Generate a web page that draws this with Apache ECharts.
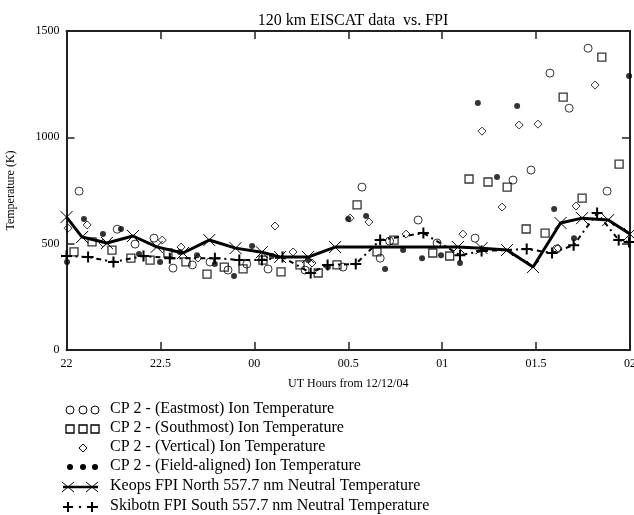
<!DOCTYPE html>
<html>
<head>
<meta charset="utf-8">
<script src="https://cdn.jsdelivr.net/npm/echarts@6/dist/echarts.min.js"></script>
<style>
html,body{margin:0;padding:0;background:#fff;}
#chart{width:634px;height:515px;}
</style>
</head>
<body>
<div id="chart"></div>
<script>
// Hours after 22 UT (tick spacing 0.5)
const tickLabels = ['22', '22.5', '00', '00.5', '01', '01.5', '02'];
const legendNames = [
  'CP 2 - (Eastmost) Ion Temperature',
  'CP 2 - (Southmost) Ion Temperature',
  'CP 2 - (Vertical) Ion Temperature',
  'CP 2 - (Field-aligned) Ion Temperature',
  'Keops FPI North 557.7 nm Neutral Temperature',
  'Skibotn FPI South 557.7 nm Neutral Temperature'
];

const eastmost = [
  [0.067,747],[0.27,568],[0.365,498],[0.466,526],[0.567,385],[0.67,400],[0.764,414],
  [0.86,376],[0.96,404],[1.073,381],[1.27,376],[1.472,390],[1.573,766],[1.67,432],
  [1.72,512],[1.872,611],[1.973,503],[2.175,526],[2.377,799],[2.473,846],[2.574,1302],
  [2.61,475],[2.676,1137],[2.777,1419],[2.878,747]
];
const southmost = [
  [0.04,461],[0.136,508],[0.242,470],[0.343,432],[0.445,423],[0.54,456],[0.636,414],
  [0.748,357],[0.84,390],[0.94,381],[1.046,423],[1.142,367],[1.243,400],[1.34,362],
  [1.44,400],[1.547,682],[1.653,461],[1.744,517],[1.95,456],[2.04,442],[2.143,804],
  [2.244,790],[2.346,766],[2.447,569],[2.548,550],[2.644,1189],[2.745,714],[2.85,1377],
  [2.942,874]
];
const vertical = [
  [0.008,573],[0.11,588],[0.195,503],[0.51,517],[0.61,484],[0.70,432],[1.11,583],
  [1.206,461],[1.307,409],[1.51,620],[1.61,602],[1.808,545],[2.11,545],[2.212,1029],
  [2.319,672],[2.41,1058],[2.51,1062],[2.617,479],[2.713,677],[2.814,1246]
];
const fieldAligned = [
  [0.003,414],[0.093,616],[0.194,545],[0.29,569],[0.386,451],[0.498,414],[0.604,461],
  [0.695,446],[0.79,404],[0.892,348],[0.988,489],[1.094,442],[1.286,423],[1.392,390],
  [1.5,616],[1.595,630],[1.696,381],[1.792,470],[1.893,432],[1.994,446],[2.095,409],
  [2.19,1161],[2.292,813],[2.399,1147],[2.596,663],[2.702,526],[2.995,1288]
];
const keops = [
  [0,625],[0.083,531],[0.215,503],[0.354,536],[0.48,485],[0.62,456],[0.76,517],
  [0.90,479],[1.04,460],[1.137,437],[1.286,437],[1.43,484],[2.084,484],[2.21,479],
  [2.345,470],[2.484,390],[2.63,597],[2.745,620],[2.884,611],[3.0,545]
];
const skibotn = [
  [0,442],[0.115,437],[0.25,414],[0.41,442],[0.55,432],[0.79,432],[0.92,423],
  [1.04,423],[1.15,437],[1.30,362],[1.39,400],[1.54,404],[1.67,517],[1.90,550],
  [2.095,446],[2.21,465],[2.45,475],[2.585,456],[2.70,493],[2.825,644],[2.94,517],
  [2.995,508]
];

const FONT = '"Liberation Serif", "Times New Roman", serif';
const crossPath = 'path://M0,0L10,10M10,0L0,10';
const plusPath = 'path://M5,0L5,10M0,5L10,5';
const hollow = {color:'rgba(0,0,0,0)', borderColor:'#000', borderWidth:1};

const chart = echarts.init(document.getElementById('chart'), null, {renderer:'canvas'});

const axisCommon = {
  type:'value', min:0, max:3, interval:0.5,
  axisLine:{show:true, onZero:false, lineStyle:{color:'#222', width:2}},
  axisTick:{show:true, inside:true, length:8, lineStyle:{color:'#222', width:1.5}},
  splitLine:{show:false}
};
const yCommon = {
  type:'value', min:0, max:1500, interval:500,
  axisLine:{show:true, onZero:false, lineStyle:{color:'#222', width:2}},
  axisTick:{show:true, inside:true, length:8, lineStyle:{color:'#222', width:1.5}},
  splitLine:{show:false}
};

// Legend built from graphic elements (to show the repeated markers)
const rowsY = [410, 429, 448, 467, 487, 507];
const g = [];
rowsY.forEach((y, i) => {
  g.push({type:'text', left:110, top:y-9, style:{text:legendNames[i], fill:'#000', font:'16px ' + FONT}});
});
[70, 83, 95].forEach(x => {
  g.push({type:'circle', shape:{cx:x, cy:rowsY[0], r:4}, style:{fill:'none', stroke:'#000', lineWidth:1}});
  g.push({type:'rect', shape:{x:x-4, y:rowsY[1]-4, width:8, height:8}, style:{fill:'none', stroke:'#000', lineWidth:1.3}});
  g.push({type:'circle', shape:{cx:x, cy:rowsY[3], r:3}, style:{fill:'#000'}});
});
g.push({type:'polygon', shape:{points:[[83,rowsY[2]-4],[87,rowsY[2]],[83,rowsY[2]+4],[79,rowsY[2]]]}, style:{fill:'none', stroke:'#000', lineWidth:1}});
// Keops legend
g.push({type:'line', shape:{x1:63, y1:rowsY[4], x2:98, y2:rowsY[4]}, style:{stroke:'#000', lineWidth:2.5}});
[68, 92].forEach(x => {
  g.push({type:'polyline', shape:{points:[[x-6,rowsY[4]-5],[x+6,rowsY[4]+5]]}, style:{stroke:'#000', lineWidth:1, fill:null}});
  g.push({type:'polyline', shape:{points:[[x-6,rowsY[4]+5],[x+6,rowsY[4]-5]]}, style:{stroke:'#000', lineWidth:1, fill:null}});
});
// Skibotn legend
g.push({type:'line', shape:{x1:63, y1:rowsY[5], x2:73, y2:rowsY[5]}, style:{stroke:'#000', lineWidth:2}});
g.push({type:'line', shape:{x1:87, y1:rowsY[5], x2:98, y2:rowsY[5]}, style:{stroke:'#000', lineWidth:2}});
g.push({type:'circle', shape:{cx:80, cy:rowsY[5], r:1.3}, style:{fill:'#000'}});
[68, 92].forEach(x => {
  g.push({type:'line', shape:{x1:x, y1:rowsY[5]-5, x2:x, y2:rowsY[5]+5}, style:{stroke:'#000', lineWidth:2}});
});

chart.setOption({
  backgroundColor:'#fff',
  animation:false,
  title:{
    text:'120 km EISCAT data  vs. FPI',
    left:348, top:8, textAlign:'center',
    textStyle:{fontFamily:FONT, fontSize:16, fontWeight:'normal', color:'#000'}
  },
  grid:{left:66.5, right:4, top:31, bottom:165, containLabel:false, outerBoundsMode:'none'},
  xAxis:[
    Object.assign({}, axisCommon, {
      position:'bottom',
      name:'UT Hours from 12/12/04', nameLocation:'middle', nameGap:28,
      nameTextStyle:{fontFamily:FONT, fontSize:12, color:'#000'},
      axisLabel:{show:true, margin:8, color:'#000', fontFamily:FONT, fontSize:12,
        formatter:v => tickLabels[Math.round(v/0.5)]}
    }),
    Object.assign({}, axisCommon, {position:'top', axisLabel:{show:false}})
  ],
  yAxis:[
    Object.assign({}, yCommon, {
      position:'left',
      name:'Temperature (K)', nameLocation:'middle', nameGap:50, nameRotate:90,
      nameTextStyle:{fontFamily:FONT, fontSize:12, color:'#000'},
      axisLabel:{show:true, margin:7, color:'#000', fontFamily:FONT, fontSize:12,
        formatter:v => String(v)}
    }),
    Object.assign({}, yCommon, {position:'right', axisLabel:{show:false}})
  ],
  graphic:g,
  series:[
    {name:legendNames[0], type:'scatter', data:eastmost, symbol:'circle', symbolSize:8, itemStyle:hollow, z:3},
    {name:legendNames[1], type:'scatter', data:southmost, symbol:'rect', symbolSize:8, itemStyle:{color:'rgba(0,0,0,0)', borderColor:'#000', borderWidth:1.3}, z:3},
    {name:legendNames[2], type:'scatter', data:vertical, symbol:'diamond', symbolSize:8, itemStyle:hollow, z:3},
    {name:legendNames[3], type:'scatter', data:fieldAligned, symbol:'circle', symbolSize:6, itemStyle:{color:'#000'}, z:3},
    {name:legendNames[4], type:'line', data:keops, symbol:crossPath, symbolSize:12, showSymbol:true,
      lineStyle:{color:'#000', width:3}, itemStyle:{color:'rgba(0,0,0,0)', borderColor:'#000', borderWidth:1}, z:2},
    {name:legendNames[5], type:'line', data:skibotn, symbol:plusPath, symbolSize:11, showSymbol:true,
      lineStyle:{color:'#000', width:2, type:[5,4,2,4]}, itemStyle:{color:'rgba(0,0,0,0)', borderColor:'#000', borderWidth:2}, z:2}
  ]
});
</script>
</body>
</html>
